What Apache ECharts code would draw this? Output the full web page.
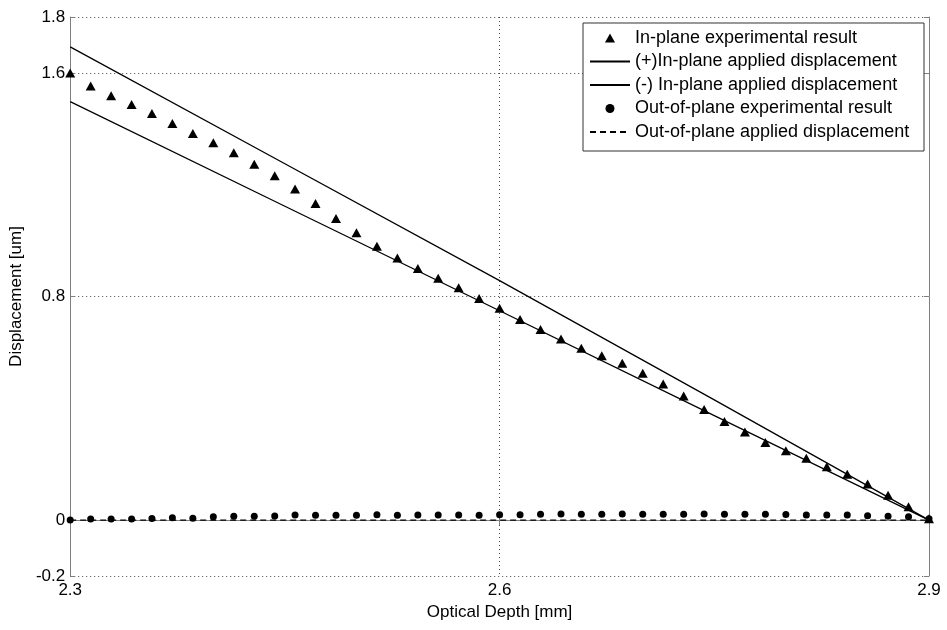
<!DOCTYPE html>
<html>
<head>
<meta charset="utf-8">
<script src="https://cdn.jsdelivr.net/npm/echarts@6/dist/echarts.min.js"></script>
<style>
  html, body { margin: 0; padding: 0; background: #fff; }
  #chart { width: 947px; height: 630px; }
</style>
</head>
<body>
<div id="chart"></div>
<script>
// sample depths [mm]
var depth = [2.3000, 2.3143, 2.3286, 2.3429, 2.3571, 2.3714, 2.3857, 2.4000, 2.4143, 2.4286,
	2.4429, 2.4571, 2.4714, 2.4857, 2.5000, 2.5143, 2.5286, 2.5429, 2.5571, 2.5714,
	2.5857, 2.6000, 2.6143, 2.6286, 2.6429, 2.6571, 2.6714, 2.6857, 2.7000, 2.7143,
	2.7286, 2.7429, 2.7571, 2.7714, 2.7857, 2.8000, 2.8143, 2.8286, 2.8429, 2.8571,
	2.8714, 2.8857, 2.9000];
// measured in-plane displacement [um]
var inPlaneExp = [1.600, 1.553, 1.518, 1.487, 1.455, 1.419, 1.383, 1.350, 1.314, 1.273,
	1.232, 1.185, 1.133, 1.079, 1.028, 0.980, 0.938, 0.900, 0.865, 0.831,
	0.793, 0.758, 0.718, 0.682, 0.648, 0.615, 0.588, 0.561, 0.525, 0.487,
	0.444, 0.396, 0.353, 0.315, 0.278, 0.248, 0.221, 0.191, 0.164, 0.129,
	0.089, 0.048, 0.005];
// measured out-of-plane displacement [um]
var outPlaneExp = [0.000, 0.004, 0.004, 0.004, 0.006, 0.008, 0.007, 0.012, 0.014, 0.014,
	0.015, 0.018, 0.017, 0.017, 0.017, 0.019, 0.017, 0.018, 0.018, 0.018,
	0.017, 0.019, 0.019, 0.021, 0.022, 0.021, 0.021, 0.022, 0.021, 0.021,
	0.021, 0.022, 0.021, 0.021, 0.021, 0.020, 0.018, 0.018, 0.018, 0.016,
	0.014, 0.012, 0.005];
// applied displacement bounds
var appliedDepth = [2.3, 2.45, 2.6, 2.75, 2.9];
var appliedPlus = [1.693, 1.275, 0.857, 0.430, 0];
var appliedMinus = [1.497, 1.123, 0.749, 0.374, 0];
var outAppliedDepth = [2.3, 2.9];
var outApplied = [0, 0];
// tick labels
var xTicks = [2.3, 2.6, 2.9];
var yTicks = [-0.2, 0, 0.8, 1.6, 1.8];

function pairs(xs, ys) {
	return xs.map(function (x, i) { return [x, ys[i]]; });
}

var font = 'Liberation Sans, Arial, sans-serif';
var axisGray = '#7f7f7f';
var noSymbol = { color : 'rgba(0,0,0,0)', borderColor : 'rgba(0,0,0,0)', borderWidth : 0, opacity : 0 };

var myChart = echarts.init(document.getElementById('chart'));
var option = {
	animation : false,
	textStyle : { fontFamily : font },
	grid : {
		left : 70,
		right : 18,
		top : 17,
		bottom : 54
	},
	legend : {
		orient : 'vertical',
		left : 583,
		top : 23,
		padding : [6, 5, 10, 6],
		itemGap : 5.5,
		itemWidth : 40,
		itemHeight : 9,
		symbolKeepAspect : true,
		borderColor : '#333',
		borderWidth : 1,
		backgroundColor : '#fff',
		textStyle : { fontFamily : font, fontSize : 18, color : '#000', lineHeight : 18, width : 284 },
		data : [
			{ name : 'In-plane experimental result', icon : 'path://M5,0 L10,9 L0,9 Z' },
			{ name : '(+)In-plane applied displacement', itemStyle : noSymbol },
			{ name : '(-) In-plane applied displacement', itemStyle : noSymbol },
			{ name : 'Out-of-plane experimental result', icon : 'circle' },
			{ name : 'Out-of-plane applied displacement', itemStyle : noSymbol }
		]
	},
	xAxis : [ {
		type : 'value',
		min : 2.3,
		max : 2.9,
		name : 'Optical Depth [mm]',
		nameLocation : 'middle',
		nameGap : 21,
		nameTextStyle : { fontSize : 17, color : '#000' },
		axisLine : { lineStyle : { color : axisGray } },
		axisTick : { inside : true, length : 5, customValues : xTicks, lineStyle : { color : axisGray } },
		axisLabel : { customValues : xTicks, fontSize : 17, color : '#000', margin : 6 },
		splitLine : { show : true, lineStyle : { color : '#444', type : [1, 3] } }
	}, {
		type : 'value',
		position : 'top',
		min : 2.3,
		max : 2.9,
		axisLine : { show : true, lineStyle : { color : axisGray } },
		axisTick : { inside : true, length : 5, customValues : xTicks, lineStyle : { color : axisGray } },
		axisLabel : { show : false },
		splitLine : { show : false }
	} ],
	yAxis : [ {
		type : 'value',
		min : -0.2,
		max : 1.8,
		name : 'Displacement [um]',
		nameLocation : 'middle',
		nameGap : 42,
		nameTextStyle : { fontSize : 17, color : '#000' },
		axisLine : { show : true, lineStyle : { color : axisGray } },
		axisTick : { show : true, inside : true, length : 5, customValues : yTicks, lineStyle : { color : axisGray } },
		axisLabel : { customValues : yTicks, fontSize : 17, color : '#000', margin : 5 },
		splitLine : { show : true, lineStyle : { color : '#444', type : [1, 3] } }
	}, {
		type : 'value',
		position : 'right',
		min : -0.2,
		max : 1.8,
		axisLine : { show : true, lineStyle : { color : axisGray } },
		axisTick : { show : true, inside : true, length : 5, customValues : yTicks, lineStyle : { color : axisGray } },
		axisLabel : { show : false },
		splitLine : { show : false }
	} ],
	series : [ {
		name : 'Out-of-plane applied displacement',
		type : 'line',
		symbol : 'none',
		lineStyle : { color : '#000', width : 1.3, type : [6, 4] },
		itemStyle : { color : '#000' },
		data : pairs(outAppliedDepth, outApplied),
		z : 2
	}, {
		name : '(+)In-plane applied displacement',
		type : 'line',
		symbol : 'none',
		lineStyle : { color : '#000', width : 1.3 },
		itemStyle : { color : '#000' },
		data : pairs(appliedDepth, appliedPlus),
		z : 2
	}, {
		name : '(-) In-plane applied displacement',
		type : 'line',
		symbol : 'none',
		lineStyle : { color : '#000', width : 1.3 },
		itemStyle : { color : '#000' },
		data : pairs(appliedDepth, appliedMinus),
		z : 2
	}, {
		name : 'In-plane experimental result',
		type : 'scatter',
		symbol : 'triangle',
		symbolSize : [10, 9],
		itemStyle : { color : '#000', opacity : 1 },
		data : pairs(depth, inPlaneExp),
		z : 3
	}, {
		name : 'Out-of-plane experimental result',
		type : 'scatter',
		symbol : 'circle',
		symbolSize : 7,
		itemStyle : { color : '#000', opacity : 1 },
		data : pairs(depth, outPlaneExp),
		z : 3
	} ]
};
myChart.setOption(option, true);
</script>
</body>
</html>
